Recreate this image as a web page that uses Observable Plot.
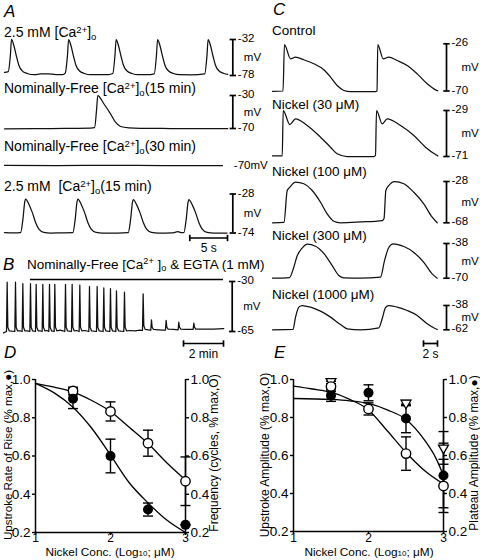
<!DOCTYPE html>
<html><head><meta charset="utf-8">
<script src="https://cdn.jsdelivr.net/npm/d3@7"></script>
<script src="https://cdn.jsdelivr.net/npm/@observablehq/plot@0.6"></script>
<style>
html,body{margin:0;padding:0;background:#fff;}
#fig{position:relative;width:480px;height:560px;overflow:hidden;background:#fff;font-family:'Liberation Sans',Arial,Helvetica,sans-serif;color:#000;}
.lab{position:absolute;white-space:nowrap;line-height:1;}
.lab sup{font-size:0.68em;position:relative;top:-0.45em;vertical-align:baseline;line-height:0;}
.lab sub{font-size:0.68em;position:relative;top:0.3em;vertical-align:baseline;line-height:0;}
.lab.xt sub{top:0.08em;}
.panel{font-style:italic;font-size:17px;}
</style></head><body><div id="fig"></div><script>
// ---------------- DATA ----------------
// Panel A: membrane potential traces (time s, mV)
const a1Trace = [[0,-74],[0.5,-73],[0.78,-52],[0.93,-32],[1.23,-39.3],[1.59,-53.7],[1.9,-64.8],[2.35,-72],[3.01,-75.4],[3.9,-77],[4.8,-76],[5.8,-75.8],[6.8,-76.8],[7.7,-76.8],[8.05,-75],[8.35,-52],[8.5,-32],[8.8,-39.3],[9.16,-53.7],[9.47,-64.8],[9.92,-72],[10.6,-75.4],[11.4,-77],[12.6,-76.8],[13.8,-76.8],[14.35,-75.5],[14.65,-52],[14.8,-32],[15.1,-39.3],[15.46,-53.7],[15.77,-64.8],[16.22,-72],[16.9,-75.4],[17.7,-77],[18.9,-77],[19.85,-75.8],[20.15,-52],[20.3,-32],[20.6,-39.3],[20.96,-53.7],[21.27,-64.8],[21.72,-72],[22.4,-75.4],[23.2,-77],[24.8,-77.2],[26.55,-75.8],[26.85,-52],[27.0,-32],[27.3,-39.3],[27.66,-53.7],[27.97,-64.8],[28.42,-72],[29.1,-75.4],[29.6,-76.5]];
const a1Range = [-78, -32];
const a2Trace = [[0,-70.4],[4,-70.2],[8,-69.9],[11.4,-69.6],[11.95,-69],[12.2,-48],[12.37,-30],[13.17,-40],[14.06,-52.2],[14.72,-62.4],[15.38,-67.6],[16.5,-69.3],[18,-69.8],[22,-70],[29.6,-70.2]];
const a2Range = [-70, -30];
const a3Trace = [[0,-69.8],[7,-70],[14,-69.9],[21,-70.1],[28.9,-70.2]];
const a3Level = "-70mV";
const a4Trace = [[0,-73.5],[1.2,-73.8],[2.13,-73.5],[2.44,-58],[2.69,-37],[2.79,-34],[3.23,-40],[3.68,-49.7],[4.12,-61.5],[4.56,-69.4],[5.22,-73.3],[6.1,-74],[7.5,-73.8],[9.06,-73.5],[9.37,-58],[9.62,-37],[9.72,-34],[10.16,-40],[10.61,-49.7],[11.05,-61.5],[11.49,-69.4],[12.15,-73.3],[13.0,-74],[15,-74],[16.41,-73.5],[16.72,-58],[16.97,-37.5],[17.07,-34.5],[17.51,-40.5],[17.96,-50],[18.4,-61.5],[18.84,-69.4],[19.5,-73.3],[20.4,-74],[22.2,-73.8],[23.0,-72.5],[23.4,-73.5],[23.78,-73.5],[24.09,-58],[24.34,-37.5],[24.44,-34.5],[24.88,-40.5],[25.33,-50],[25.77,-61.5],[26.21,-69.4],[26.87,-73.3],[27.8,-74],[29.5,-74]];
const a4Range = [-74, -28];
const aTimeBar = 5; // s

// Panel B: long recording (time s, mV)
const bTrace = [[0,-66],[9,-65],[11,-30.5],[13,-62],[17,-64.5],[25,-64.8],[34,-65],[36,-30.5],[38,-62],[42,-64.5],[50,-64.5],[56,-65],[58,-31.5],[60,-62],[64,-64.5],[72,-64.5],[79,-65],[81,-31.5],[83,-62],[87,-64.5],[96,-65],[98,-32],[100,-62],[104,-64.5],[110,-64.5],[116,-65],[118,-32],[120,-62],[124,-64.5],[130,-64.3],[136,-65],[138,-32],[140,-62],[144,-64.5],[152,-65],[154,-32],[156,-62],[160,-64.5],[170,-64],[178,-64.5],[184,-65],[186,-32],[188,-62],[192,-64.5],[204,-65],[206,-32],[208,-62],[212,-64.5],[220,-64.3],[227,-65],[229,-32.5],[231,-62],[235,-64.5],[245,-64.3],[256,-65],[258,-33.5],[260,-62],[264,-64.5],[279,-65],[281,-33.5],[283,-62],[287,-64.5],[299,-65],[301,-34.5],[303,-62],[307,-64.5],[319,-65],[321,-35],[323,-62],[327,-64.5],[337,-65],[339,-36.5],[341,-62],[345,-64.5],[361,-65],[363,-37.5],[365,-62],[369,-64.5],[380,-64.3],[395,-64.5],[410,-64],[417,-64.3],[419,-38.6],[421,-61],[425,-63.5],[435,-63.8],[442,-64],[444,-56.8],[446,-62],[450,-63.5],[465,-63.8],[478,-64],[486,-64],[488,-57.2],[490,-62],[494,-63.3],[510,-63.5],[524,-63.8],[526,-58.5],[528,-62],[532,-63.3],[550,-63.5],[569,-63.5],[571,-59.2],[573,-62],[577,-63.3],[600,-63.3],[630,-63.3],[661,-63]];
const bRange = [-65, -30];
const bEgta = [81, 660]; // s, period of Ca-free + EGTA
const bTimeBar = 120; // s (2 min)

// Panel C: nickel traces (time s, mV)
const cControl = [[0,-70.3],[1.5,-70],[1.71,-26.7],[2.57,-40],[3.29,-38.5],[4.47,-40.9],[5.9,-44.6],[7.33,-50.2],[8.29,-57.1],[9.24,-64.9],[10.19,-69.5],[11.14,-70.6],[14.71,-70.6],[14.93,-70],[15.04,-26.7],[15.81,-40],[16.61,-38.5],[17.81,-41.6],[19.24,-46.2],[20.67,-54],[22.1,-63.3],[23.29,-68.9],[23.61,-69.8]];
const cNi30 = [[0,-70.5],[1.39,-70.5],[1.53,-29],[2.47,-41.8],[3.29,-36.6],[4.96,-42.7],[6.86,-53.4],[8.29,-62.5],[9.24,-68.5],[10.67,-71],[14.47,-71],[14.71,-70],[14.86,-29],[15.67,-41.1],[16.39,-36.6],[18.29,-42.7],[20.19,-51.8],[21.86,-62.5],[23.29,-69.2],[23.61,-70.4]];
const cNi100 = [[0,-68],[1.64,-67.7],[2.1,-36.7],[2.47,-33.5],[3.29,-28.7],[4.47,-30.2],[5.67,-36.7],[6.86,-48.1],[7.81,-59.3],[8.76,-66.5],[9.71,-68],[12.57,-67.2],[15.67,-65.8],[15.93,-63.8],[16.19,-36.7],[16.61,-31.9],[17.43,-28],[18.76,-30.2],[20.19,-38.4],[21.61,-49.6],[22.81,-62.6],[23.53,-68]];
const cNi300 = [[0,-70],[2.43,-69.4],[3.04,-59.9],[3.53,-49.3],[4.24,-42.2],[4.96,-38.6],[6.14,-40.5],[7.33,-47.1],[8.53,-58.4],[9.47,-67.5],[10.19,-69.6],[12.57,-70],[15.43,-69.1],[16,-53.8],[16.61,-41.7],[17.24,-38.3],[18.76,-40.8],[20.19,-46.2],[21.61,-55.4],[22.81,-66],[23.53,-70]];
const cNi1000 = [[0,-62],[2.93,-61.7],[3.29,-49.5],[3.76,-39.6],[4.24,-38],[5.43,-39.6],[6.86,-43.6],[8.29,-49.5],[9.71,-56.8],[10.67,-61],[12.57,-62],[15.19,-60],[15.67,-51.1],[16.14,-40.2],[16.61,-38],[17.81,-39.6],[19.24,-42.9],[20.67,-47.8],[22.1,-56.1],[23.29,-61],[23.53,-61.7]];
const cControlRange = [-70, -26];
const cNi30Range = [-71, -29];
const cNi100Range = [-68, -28];
const cNi300Range = [-70, -38];
const cNi1000Range = [-62, -38];
const cTimeBar = 2; // s

// Panels D/E: dose–response (log10 nickel µM vs fraction of max)
const nickelConc = [1.5, 2, 2.5, 3];
const riseMean = [0.90, 0.60, 0.32, 0.24];
const riseErr  = [0.052, 0.088, 0.034, 0.0];
const freqMean = [0.94, 0.833, 0.667, 0.468];
const freqErr  = [0.02, 0.05, 0.068, 0.127];
const fitConc = [1, 1.25, 1.5, 1.75, 2, 2.25, 2.5, 2.75, 3];
const riseFit = [0.98, 0.93, 0.855, 0.745, 0.605, 0.46, 0.355, 0.265, 0.20];
const freqFit = [0.98, 0.96, 0.935, 0.89, 0.833, 0.75, 0.665, 0.565, 0.475];
const upAmpMean = [0.963, 0.845, 0.61, 0.44];
const upAmpErr  = [0.027, 0.032, 0.088, 0.14];
const platMean  = [0.915, 0.93, 0.795, 0.495];
const platErr   = [0.03, 0.042, 0.075, 0.17];
const triConc = [1.5, 2.5, 3];
const triMean = [0.99, 0.876, 0.64];
const triErr  = [0.012, 0.014, 0.086];
const upAmpFit = [0.965, 0.95, 0.933, 0.895, 0.84, 0.73, 0.616, 0.52, 0.45];
const platFitConc = [1, 1.5, 1.75, 2, 2.25, 2.5, 2.75, 2.9, 3];
const platFit = [0.90, 0.895, 0.888, 0.874, 0.84, 0.79, 0.68, 0.585, 0.495];
const xTicks = [1, 2, 3];
const yTicks = [0.2, 0.4, 0.6, 0.8, 1.0];

// ---------------- DRAWING ----------------
const FONT = "'Liberation Sans', Arial, Helvetica, sans-serif";
const W = 480, H = 560;
const fig = document.getElementById("fig");
const hcap = {draw(ctx, size){const r = Math.sqrt(size/Math.PI); ctx.moveTo(-r,0); ctx.lineTo(r,0);}};
const vcap = {draw(ctx, size){const r = Math.sqrt(size/Math.PI); ctx.moveTo(0,-r); ctx.lineTo(0,r);}};
const triDown = {draw(ctx, size){const r = Math.sqrt(size/Math.PI); const w = r*1.3, h = w*1.73; ctx.moveTo(-w,-h/3); ctx.lineTo(w,-h/3); ctx.lineTo(0,2*h/3); ctx.closePath();}};

function addPlot(p){ p.style.position = "absolute"; p.style.left = "0px"; p.style.top = "0px"; fig.appendChild(p); }

function trace(cfg){
  const {data, x0, x1, t1, yBot, yTop, vBot, vTop} = cfg;
  const pxT = px => (px - x0) / (x1 - x0) * t1;
  const pxV = py => vBot + (yBot - py) / (yBot - yTop) * (vTop - vBot);
  const marks = [Plot.line(data, {x: d => d[0], y: d => d[1], curve: cfg.curve || "monotone-x", stroke: "#111", strokeWidth: 1.25, strokeLinejoin: "round"})];
  if (cfg.range){
    const bt = pxT(cfg.barPx), vals = cfg.range;
    marks.push(Plot.ruleX([bt], {x: d => d, y1: () => vals[0], y2: () => vals[1], stroke: "#000", strokeWidth: 1.7}));
    marks.push(Plot.dot(vals, {x: () => bt, y: d => d, symbol: hcap, r: 3.2, stroke: "#000", strokeWidth: 1.7, fill: "none"}));
    marks.push(Plot.text(vals, {x: () => bt, y: d => d, text: d => String(d), dx: cfg.numDx, dy: -1, textAnchor: "start"}));
    marks.push(Plot.text(["mV"], {x: () => bt, y: () => (vals[0] + vals[1]) / 2, text: d => d, dx: cfg.mvDx, textAnchor: "start"}));
  }
  if (cfg.levelText){
    const bt = pxT(cfg.barPx);
    marks.push(Plot.text([cfg.levelText], {x: () => bt, y: () => cfg.level, text: d => d, dx: 1, textAnchor: "start"}));
  }
  if (cfg.timeBar){
    const tb = cfg.timeBar; const e = pxT(tb.rightPx), s = e - tb.len, vb = pxV(tb.yPx);
    marks.push(Plot.ruleY([vb], {y: d => d, x1: () => s, x2: () => e, stroke: "#000", strokeWidth: 1.7}));
    marks.push(Plot.dot([s, e], {x: d => d, y: () => vb, symbol: vcap, r: 3.2, stroke: "#000", strokeWidth: 1.7, fill: "none"}));
    marks.push(Plot.text([tb.text], {x: () => (s + e) / 2, y: () => vb, dy: 10.5, text: d => d, textAnchor: "middle", fontSize: 12}));
  }
  if (cfg.egta){
    const vl = pxV(cfg.egta.yPx);
    marks.push(Plot.ruleY([vl], {y: d => d, x1: () => cfg.egta.span[0], x2: () => cfg.egta.span[1], stroke: "#000", strokeWidth: 1.3}));
  }
  addPlot(Plot.plot({
    width: W, height: H, marginLeft: x0, marginRight: W - x1, marginTop: yTop, marginBottom: H - yBot,
    x: {domain: [0, t1], axis: null}, y: {domain: [vBot, vTop], axis: null},
    style: {background: "transparent", fontFamily: FONT, fontSize: "11.5px", overflow: "visible"},
    marks
  }));
}

// Panel A
const A = {x0: 4, x1: 228, t1: 29.7, barPx: 232.3, numDx: 5, mvDx: 11};
trace({...A, data: a1Trace, yBot: 75, yTop: 39, vBot: a1Range[0], vTop: a1Range[1], range: a1Range});
trace({...A, data: a2Trace, yBot: 128, yTop: 95, vBot: a2Range[0], vTop: a2Range[1], range: a2Range});
trace({...A, data: a3Trace, yBot: 165, yTop: 132, vBot: -70, vTop: -30, levelText: a3Level, level: -70});
trace({...A, data: a4Trace, yBot: 232.5, yTop: 193.5, vBot: a4Range[0], vTop: a4Range[1], range: a4Range,
  timeBar: {len: aTimeBar, rightPx: 227, yPx: 237.5, text: "5 s"}});
// Panel B
trace({data: bTrace, x0: 3, x1: 223.3, t1: 661, barPx: 231.7, numDx: 5, mvDx: 11, curve: "linear",
  yBot: 331, yTop: 281, vBot: bRange[0], vTop: bRange[1], range: bRange,
  timeBar: {len: bTimeBar, rightPx: 223, yPx: 343, text: "2 min"},
  egta: {span: bEgta, yPx: 279}});
// Panel C
const C = {x0: 272, x1: 437, t1: 23.57, barPx: 446, numDx: 5, mvDx: 15};
trace({...C, data: cControl, yBot: 90.5, yTop: 43.3, vBot: cControlRange[0], vTop: cControlRange[1], range: cControlRange});
trace({...C, data: cNi30, yBot: 156, yTop: 110, vBot: cNi30Range[0], vTop: cNi30Range[1], range: cNi30Range});
trace({...C, data: cNi100, yBot: 222.3, yTop: 181, vBot: cNi100Range[0], vTop: cNi100Range[1], range: cNi100Range});
trace({...C, data: cNi300, yBot: 277.7, yTop: 243, vBot: cNi300Range[0], vTop: cNi300Range[1], range: cNi300Range});
trace({...C, data: cNi1000, yBot: 329.3, yTop: 305, vBot: cNi1000Range[0], vTop: cNi1000Range[1], range: cNi1000Range,
  timeBar: {len: cTimeBar, rightPx: 437, yPx: 343, text: "2 s"}});

// Panels D and E
const hasAxisMarks = typeof Plot.axisY === "function";
function errMarks(conc, mean, err){
  const rows = conc.map((c, i) => ({c, lo: mean[i] - err[i], hi: mean[i] + err[i]}));
  const o = {stroke: "#000", strokeWidth: 1.4, fill: "none", symbol: hcap, r: 5};
  return [Plot.ruleX(rows, {x: "c", y1: "lo", y2: "hi", stroke: "#000", strokeWidth: 1.4}),
          Plot.dot(rows, {x: "c", y: "lo", ...o}), Plot.dot(rows, {x: "c", y: "hi", ...o})];
}
function pts(xs, ys){ return xs.map((x, i) => ({x, y: ys[i]})); }
function dose(cfg){
  const axisOpts = {tickSize: 3, tickPadding: 2, label: null, strokeWidth: 1.4};
  const axes = hasAxisMarks ? [
    Plot.axisX({...axisOpts, tickPadding: cfg.xPad, ticks: xTicks, tickFormat: "d", fontSize: 12}),
    Plot.axisY({...axisOpts, anchor: "left", ticks: yTicks, tickFormat: ".1f"}),
    Plot.axisY({...axisOpts, anchor: "right", ticks: yTicks, tickFormat: ".1f"})
  ] : [];
  const xs = {domain: [1, 3]}, ys = {domain: [0.2, 1]};
  if (!hasAxisMarks){
    Object.assign(xs, {ticks: xTicks, tickFormat: "d", tickSize: 3, tickPadding: 0, label: null});
    Object.assign(ys, {ticks: yTicks, tickFormat: ".1f", tickSize: 3, tickPadding: 2, label: null, axis: "both"});
  }
  addPlot(Plot.plot({
    width: W, height: H, marginLeft: cfg.left, marginRight: W - cfg.right, marginTop: cfg.top, marginBottom: H - cfg.bottom,
    x: xs, y: ys,
    style: {background: "transparent", fontFamily: FONT, fontSize: "13.5px", overflow: "visible"},
    marks: [
      ...axes,
      Plot.ruleX([1, 3], {stroke: "#000", strokeWidth: 1.5}),
      Plot.ruleY([0.2], {stroke: "#000", strokeWidth: 1.5}),
      ...cfg.marks
    ]
  }));
}
const lineOpt = {x: "x", y: "y", curve: "monotone-x", stroke: "#000", strokeWidth: 1.3};
const openOpt = {x: "x", y: "y", r: 4.7, fill: "#fff", stroke: "#000", strokeWidth: 1.4};
const fillOpt = {x: "x", y: "y", r: 5, fill: "#000"};
dose({left: 35, right: 185, top: 379, bottom: 532, xPad: -2, marks: [
  Plot.line(pts(fitConc, riseFit), lineOpt),
  Plot.line(pts(fitConc, freqFit), lineOpt),
  ...errMarks(nickelConc, freqMean, freqErr),
  ...errMarks(nickelConc, riseMean, riseErr),
  Plot.dot(pts(nickelConc, freqMean), openOpt),
  Plot.dot(pts(nickelConc, riseMean), fillOpt)
]});
dose({left: 293, right: 443, top: 379, bottom: 531, xPad: -1, marks: [
  Plot.line(pts(fitConc, upAmpFit), lineOpt),
  Plot.line(pts(platFitConc, platFit), lineOpt),
  ...errMarks(triConc, triMean, triErr),
  ...errMarks(nickelConc, upAmpMean, upAmpErr),
  ...errMarks(nickelConc, platMean, platErr),
  Plot.dot(pts(triConc, triMean), {x: "x", y: "y", symbol: triDown, r: 3.8, fill: "#fff", stroke: "#000", strokeWidth: 1.3}),
  Plot.dot(pts(nickelConc, upAmpMean), openOpt),
  Plot.dot(pts(nickelConc, platMean), fillOpt)
]});

// ---------------- TEXT LABELS ----------------
function label(html, x, cy, size, extra){
  const d = document.createElement("div");
  d.className = "lab" + (extra && extra.cls ? " " + extra.cls : "");
  d.innerHTML = html;
  d.style.fontSize = size + "px";
  d.style.left = x + "px";
  d.style.top = (cy - size * 0.55) + "px";
  if (extra && extra.center) d.style.transform = "translateX(-50%)";
  fig.appendChild(d);
}
function vlabel(html, cx, cy, size){
  const d = document.createElement("div");
  d.className = "lab";
  d.innerHTML = html;
  d.style.fontSize = size + "px";
  d.style.left = cx + "px";
  d.style.top = cy + "px";
  d.style.transform = "translate(-50%,-50%) rotate(-90deg)";
  fig.appendChild(d);
}
const ca = "[Ca<sup>2+</sup>]<sub>o</sub>";
label("A", 4, 12, 17, {cls: "panel"});
label("B", 3, 265, 17, {cls: "panel"});
label("C", 273, 10, 17, {cls: "panel"});
label("D", 4, 353, 17, {cls: "panel"});
label("E", 274, 353, 17, {cls: "panel"});
label("2.5 mM " + ca, 4, 33, 14);
label("Nominally-Free " + ca + "(15 min)", 4, 88.5, 14);
label("Nominally-Free " + ca + "(30 min)", 4, 147, 14);
label("2.5 mM&nbsp; " + ca + "(15 min)", 4, 187, 14);
label("Nominally-Free [Ca<sup>2+</sup> ]<sub>o</sub> &amp; EGTA (1 mM)", 27, 265, 13.5);
label("Control", 272, 31, 13.5);
label("Nickel (30 μM)", 272, 105, 13.5);
label("Nickel (100 μM)", 272, 172, 13.5);
label("Nickel (300 μM)", 272, 236, 13.5);
label("Nickel (1000 μM)", 272, 295, 13.5);
label("Nickel Conc. (Log<sub>10</sub>; μM)", 110, 553.2, 11.8, {center: true, cls: "xt"});
label("Nickel Conc. (Log<sub>10</sub>; μM)", 369, 553.2, 11.8, {center: true, cls: "xt"});
vlabel("Upstroke Rate of Rise (% max,●)", 7.5, 455, 11.6);
vlabel("Frequency (cycles, % max,O)", 214, 453, 12);
vlabel("Upstroke Amplitude (% max,O)", 265, 455, 12);
vlabel("Plateau Amplitude (% max,●)", 473.5, 453, 12);
</script></body></html>
